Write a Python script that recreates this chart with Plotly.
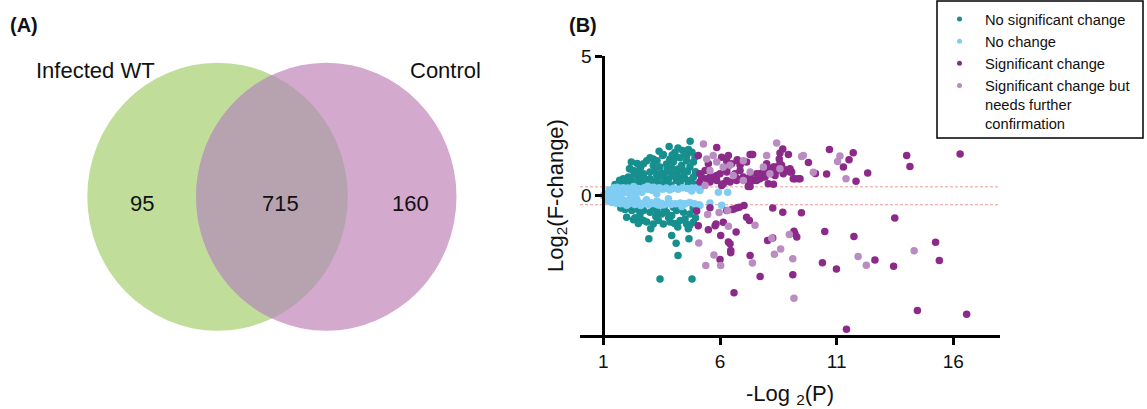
import numpy as np
import plotly.graph_objects as go

W, H = 1147, 409
FONT = "Liberation Sans, Arial, sans-serif"

# ---------------- Venn data ----------------
venn_sets = ["Infected WT", "Control"]
venn_counts = [95, 715, 160]  # only WT, shared, only Control

# ---------------- Volcano data ----------------
nosig_x = [4.72, 3.82, 3.39, 3.57, 4.40, 4.29, 4.12, 3.14, 2.86, 2.57, 2.12, 2.32, 1.86, 1.93, 2.72, 3.00,
           3.43, 3.71, 4.00, 4.57, 4.86, 4.71, 4.43, 4.14, 3.86, 3.57, 3.29, 3.00, 2.57, 2.22, 2.43, 2.86,
           3.21, 3.71, 4.14, 4.50, 4.86, 4.64, 4.29, 3.50, 3.93, 4.36, 2.72, 2.29, 2.07, 1.72, 1.50, 3.14,
           4.07, 4.57, 4.93, 3.54, 2.60, 2.14, 2.00, 2.30, 2.50, 2.70, 2.90, 3.10, 3.30, 3.40, 3.60, 3.80,
           3.90, 4.00, 4.20, 4.30, 4.45, 4.60, 4.75, 4.90, 4.95, 3.20, 3.45, 3.75, 2.75, 2.45, 1.70, 1.60,
           2.05, 3.95, 4.20, 4.50, 4.80, 4.65, 3.85, 3.30, 3.00, 2.45, 2.20,
           1.93, 2.22, 2.43, 2.72, 2.00, 2.36, 2.64, 2.86, 3.03, 3.00, 3.29, 3.50, 3.71, 3.93, 4.14, 4.43,
           4.71, 3.36, 3.57, 3.86, 4.29, 4.50, 4.71, 4.95, 4.64, 4.19, 2.95, 3.93, 4.12, 4.67, 4.20, 3.43,
           4.80, 3.14, 2.57, 2.29, 2.72, 4.57, 4.86, 1.75, 2.10, 3.15, 3.60, 4.00, 4.35, 4.85, 3.80, 4.05,
           2.50, 3.25]
nosig_y = [1.94, 1.76, 1.59, 1.47, 1.61, 1.35, 1.37, 1.08, 1.25, 0.96, 0.96, 0.78, 0.60, 0.42, 0.78, 0.84,
           1.02, 1.13, 1.20, 1.25, 1.20, 1.02, 0.90, 0.78, 0.84, 0.66, 0.72, 0.60, 0.54, 0.54, 0.42, 0.42,
           0.48, 0.48, 0.54, 0.60, 0.66, 0.42, 0.42, 0.42, 0.99, 1.08, 1.14, 0.90, 0.66, 0.42, 0.39, 1.31,
           1.55, 1.43, 1.37, 1.43, 1.04, 0.96, 0.45, 0.35, 0.65, 0.38, 0.55, 0.35, 0.55, 0.38, 0.80, 0.60,
           0.38, 0.70, 0.95, 0.62, 0.75, 0.85, 0.55, 0.40, 0.85, 0.90, 0.78, 0.95, 0.62, 0.75, 0.55, 0.35,
           0.35, 1.45, 1.70, 1.50, 1.55, 1.65, 1.30, 1.25, 1.35, 1.15, 1.20,
           -0.50, -0.54, -0.48, -0.54, -0.78, -0.80, -0.87, -0.95, -1.19, -0.60, -0.54, -0.66, -0.60, -0.72,
           -0.54, -0.60, -0.66, -0.90, -1.02, -0.95, -0.90, -0.84, -1.07, -0.80, -1.19, -1.13, -1.55, -1.43,
           -1.71, -1.55, -2.15, -2.99, -2.99, -1.02, -0.66, -0.87, -0.90, -1.02, -0.96, -0.45, -0.40, -0.42,
           -0.45, -0.42, -0.45, -0.45, -0.80, -1.00, -1.00, -0.75]

nochange_x = [1.00, 1.05, 1.08, 1.12, 1.15, 1.20, 1.22, 1.25, 1.30, 1.32, 1.35, 1.38, 1.40, 1.45, 1.50, 1.50,
              1.55, 1.60, 1.62, 1.65, 1.70, 1.72, 1.75, 1.80, 1.82, 1.85, 1.90, 1.95, 2.00, 2.05, 2.10, 2.10,
              2.15, 2.20, 2.25, 2.30, 2.35, 2.40, 2.45, 2.50, 2.55, 2.60, 2.70, 2.75, 2.80, 2.90, 2.95, 3.00,
              3.05, 3.10, 3.20, 3.25, 3.30, 3.40, 3.50, 3.55, 3.60, 3.70, 3.80, 3.85, 3.90, 4.00, 4.10, 4.20,
              4.30, 4.40, 4.50, 4.60, 4.70, 4.80, 4.90, 5.00, 5.10, 5.15, 3.79, 3.93, 4.36, 5.14, 5.57, 6.07,
              5.93, 6.33, 5.14, 4.79, 3.29, 1.35, 1.60, 1.75, 1.90, 2.25, 2.40, 2.65, 2.85, 3.15, 3.45, 2.00,
              2.30, 2.60, 2.90, 3.35, 1.45, 1.55, 1.25, 1.18]
nochange_y = [0.00, 0.03, -0.04, 0.06, -0.06, 0.08, -0.10, 0.02, 0.12, -0.12, 0.05, -0.05, 0.15, -0.15, 0.10,
              -0.20, 0.18, -0.08, 0.22, -0.22, 0.05, -0.25, 0.25, 0.12, -0.15, 0.28, -0.28, 0.20, -0.20, 0.27,
              -0.30, 0.10, -0.10, 0.22, -0.25, 0.28, -0.32, 0.15, -0.18, 0.25, -0.28, 0.20, -0.30, 0.28, -0.22,
              0.22, -0.33, 0.27, -0.26, 0.18, -0.30, 0.25, -0.20, 0.28, -0.28, 0.22, -0.33, 0.27, -0.25, 0.20,
              -0.32, 0.26, -0.30, 0.22, -0.27, 0.28, -0.30, 0.25, -0.25, 0.27, -0.30, 0.28, -0.33, 0.27, -0.12,
              -0.30, -0.39, -0.36, -0.27, -0.35, 0.12, 0.12, 0.18, 0.16, 0.06, -0.25, 0.30, -0.30, 0.10, 0.05,
              -0.05, 0.12, -0.15, 0.30, -0.35, -0.35, 0.32, -0.36, 0.33, -0.34, 0.28, -0.28, 0.20, -0.18]

sig_x = [5.86, 5.07, 6.07, 6.36, 6.74, 7.36, 7.14, 6.86, 6.29, 5.50, 5.36, 5.14, 5.14, 5.57, 5.86, 6.07,
         6.29, 6.74, 7.14, 7.29, 7.57, 7.86, 8.00, 8.29, 8.36, 7.71, 7.21, 7.43, 8.07, 8.29, 8.69, 8.57,
         8.93, 8.54, 8.64, 8.71, 9.00, 9.07, 9.21, 9.43, 9.79, 10.09, 10.57, 10.69, 11.29, 11.53, 11.71,
         11.83, 12.33, 14.00, 14.14, 16.29, 6.29, 6.50, 6.74, 6.93, 7.29, 7.40, 6.86, 6.64, 6.29, 6.00,
         5.71, 5.43, 5.21, 5.57, 5.86, 6.14, 6.43, 6.71, 7.00, 7.29, 7.57, 7.71, 7.93, 8.07, 8.21, 8.43,
         8.71, 8.86, 9.00, 9.14, 9.36, 7.29, 7.64, 8.00, 8.36, 8.57,
         5.00, 5.07, 5.50, 5.79, 5.83, 6.03, 6.14, 6.29, 6.50, 6.71, 7.03, 7.14, 7.26, 6.36, 6.43, 6.46,
         6.46, 6.00, 7.29, 8.26, 8.69, 9.49, 8.04, 8.26, 9.17, 9.21, 9.29, 7.72, 9.12, 6.60, 10.39, 10.49,
         10.99, 11.74, 12.64, 13.49, 13.44, 15.24, 15.40, 14.46, 16.57, 11.42, 5.57, 6.57, 6.83, 6.69]
sig_y = [1.72, 1.43, 1.37, 1.43, 1.25, 1.47, 1.20, 1.08, 0.96, 1.14, 0.90, 0.78, 0.48, 0.66, 0.72, 0.36,
         0.54, 0.60, 0.54, 0.66, 0.78, 0.84, 0.96, 1.02, 0.72, 0.60, 0.32, 0.54, 0.42, 0.40, 1.67, 1.52,
         1.47, 1.31, 1.08, 0.78, 0.96, 0.84, 0.60, 0.60, 1.18, 0.79, 0.77, 1.65, 1.02, 1.28, 1.53,
         0.51, 0.81, 1.43, 1.04, 1.49, 1.23, 1.14, 1.28, 1.20, 1.47, 1.47, 0.90, 0.78, 0.84, 0.78,
         0.66, 0.60, 0.66, 0.48, 0.54, 0.42, 0.48, 0.54, 0.66, 0.60, 0.54, 0.78, 0.66, 0.84, 0.78, 0.90,
         0.84, 0.92, 0.84, 0.60, 0.60, 0.32, 0.60, 1.14, 1.02, 1.14,
         -0.56, -1.08, -1.23, -1.08, -1.02, -1.43, -0.96, -0.54, -0.50, -0.45, -0.36, -0.78, -0.90, -1.67,
         -1.73, -1.97, -2.05, -2.29, -2.15, -0.45, -0.60, -0.62, -1.61, -1.52, -1.28, -1.37, -1.49, -2.90,
         -2.84, -3.49, -2.41, -1.29, -2.63, -1.47, -2.31, -0.81, -2.54, -1.68, -2.33, -4.12, -4.26, -4.79,
         -0.44, -0.49, -0.42, -1.31]

sigconf_x = [5.29, 8.43, 5.71, 5.86, 6.43, 7.00, 8.00, 8.57, 8.14, 7.86, 7.00, 9.50, 9.57, 10.00, 11.14,
             11.04, 11.40, 5.57, 6.14, 5.43, 7.29, 6.57, 5.36,
             5.47, 5.96, 6.33, 6.36, 5.09, 5.74, 6.03, 5.39, 7.39, 7.50, 8.22, 8.33, 8.60, 8.97, 9.12,
             9.17, 11.92, 12.27, 14.32]
sigconf_y = [1.85, 1.88, 1.43, 1.20, 1.08, 1.25, 1.43, 0.96, 0.78, 1.02, 0.54, 1.40, 1.43, 0.83, 1.42,
             1.22, 0.60, 0.90, 1.02, 1.31, 0.84, 0.72, 0.36,
             -0.68, -0.61, -0.54, -1.10, -1.70, -2.13, -2.51, -2.51, -2.42, -1.07, -1.53, -2.11, -1.92,
             -1.40, -2.27, -3.68, -2.19, -2.50, -1.98]

fc_thresholds = [0.31, -0.33]

series_names = ["No significant change", "No change", "Significant change",
                "Significant change but<br>needs further<br>confirmation"]
series_colors = ["#178F8E", "#7FCDF2", "#8B2A88", "#B98CC2"]
series_x = [nosig_x, nochange_x, sig_x, sigconf_x]
series_y = [nosig_y, nochange_y, sig_y, sigconf_y]

x_ticks = [1, 6, 11, 16]
y_ticks = [0, 5]

fig = go.Figure()

# volcano traces
for name, col, xs, ys in zip(series_names, series_colors, series_x, series_y):
    fig.add_trace(go.Scatter(x=xs, y=ys, mode="markers", name=name, showlegend=False,
                             marker=dict(color=col, size=7.5, line=dict(width=0)),
                             xaxis="x", yaxis="y", hoverinfo="skip"))
# legend-only traces (smaller symbols)
for name, col in zip(series_names, series_colors):
    fig.add_trace(go.Scatter(x=[None], y=[None], mode="markers", name=name, showlegend=True,
                             marker=dict(color=col, size=5), xaxis="x", yaxis="y"))

# threshold lines
for t in fc_thresholds:
    fig.add_shape(type="line", xref="x", yref="y", x0=0, x1=18, y0=t, y1=t,
                  line=dict(color="#F29C96", width=1, dash="3px,2px"), layer="below")

# ---------------- Venn geometry (pixel space of left panel) ----------------
cy, ry, rx = 196.7, 134.0, 130.2
cxL, cxR = 217.5, 326.3
fig.add_shape(type="circle", xref="x2", yref="y2", x0=cxL - rx, x1=cxL + rx, y0=cy - ry, y1=cy + ry,
              fillcolor="#C0DE99", line=dict(width=0), layer="below")
fig.add_shape(type="circle", xref="x2", yref="y2", x0=cxR - rx, x1=cxR + rx, y0=cy - ry, y1=cy + ry,
              fillcolor="#D4A9CE", line=dict(width=0), layer="below")
half = (cxR - cxL) / 2
th = np.arccos(half / rx)
t1 = np.linspace(-th, th, 80)
t2 = np.linspace(th, -th, 80)
px = np.concatenate([cxL + rx * np.cos(t1), cxR - rx * np.cos(t2)])
py = np.concatenate([cy + ry * np.sin(t1), cy + ry * np.sin(t2)])
path = "M " + " L ".join(f"{a:.2f},{b:.2f}" for a, b in zip(px, py)) + " Z"
fig.add_shape(type="path", xref="x2", yref="y2", path=path, fillcolor="#B7A3AF",
              line=dict(width=0), layer="below")

venn_text = [(venn_sets[0], 95, 70), (venn_sets[1], 445, 70),
             (str(venn_counts[0]), 141.7, 203), (str(venn_counts[1]), 280, 203),
             (str(venn_counts[2]), 410, 203)]
for txt, x, y in venn_text:
    fig.add_annotation(x=x, y=y, xref="x2", yref="y2", text=txt, showarrow=False,
                       font=dict(family=FONT, size=22, color="#111111"),
                       xanchor="center", yanchor="middle")

fig.add_annotation(x=8 / W, y=1 - 25 / H, xref="paper", yref="paper", text="<b>(A)</b>",
                   showarrow=False, xanchor="left", yanchor="middle",
                   font=dict(family=FONT, size=20, color="#111111"))
fig.add_annotation(x=567 / W, y=1 - 25 / H, xref="paper", yref="paper", text="<b>(B)</b>",
                   showarrow=False, xanchor="left", yanchor="middle",
                   font=dict(family=FONT, size=20, color="#111111"))

# legend frame
fig.add_shape(type="rect", xref="paper", yref="paper", x0=937 / W, x1=1143 / W,
              y0=1 - 138 / H, y1=1 - 1 / H, line=dict(color="black", width=1.5),
              fillcolor="rgba(0,0,0,0)", layer="above")

fig.update_layout(
    width=W, height=H,
    margin=dict(l=0, r=0, t=0, b=0, pad=0, autoexpand=False),
    paper_bgcolor="white", plot_bgcolor="rgba(0,0,0,0)",
    font=dict(family=FONT, color="#111111"),
    xaxis=dict(domain=[580 / W, 1000 / W], range=[0, 18], tickvals=x_ticks, automargin=False,
               showline=True, linewidth=3, linecolor="black", ticks="outside", ticklen=7,
               tickwidth=3, tickcolor="black", showgrid=False, zeroline=False,
               tickfont=dict(size=19, family=FONT),
               title=dict(text="-Log <sub>2</sub>(P)", font=dict(size=22, family=FONT), standoff=15)),
    yaxis=dict(domain=[74 / H, 353 / H], range=[-5, 5], tickvals=y_ticks, automargin=False,
               anchor="free", position=603.3 / W,
               showline=True, linewidth=3, linecolor="black", ticks="outside", ticklen=7,
               tickwidth=3, tickcolor="black", showgrid=False, zeroline=False,
               tickfont=dict(size=19, family=FONT),
               title=dict(text="Log<sub>2</sub>(F-change)", font=dict(size=22, family=FONT), standoff=10)),
    xaxis2=dict(domain=[0, 545 / W], range=[0, 545], visible=False, anchor="y2", automargin=False),
    yaxis2=dict(domain=[0, 1], range=[H, 0], visible=False, anchor="x2", automargin=False),
    legend=dict(x=934 / W, y=1 - 3 / H, xanchor="left", yanchor="top",
                borderwidth=0, bgcolor="rgba(0,0,0,0)",
                font=dict(size=14.7, family=FONT, color="#111111"), valign="top",
                itemwidth=41, tracegroupgap=0),
    showlegend=True,
)

fig.write_html("out.html")
